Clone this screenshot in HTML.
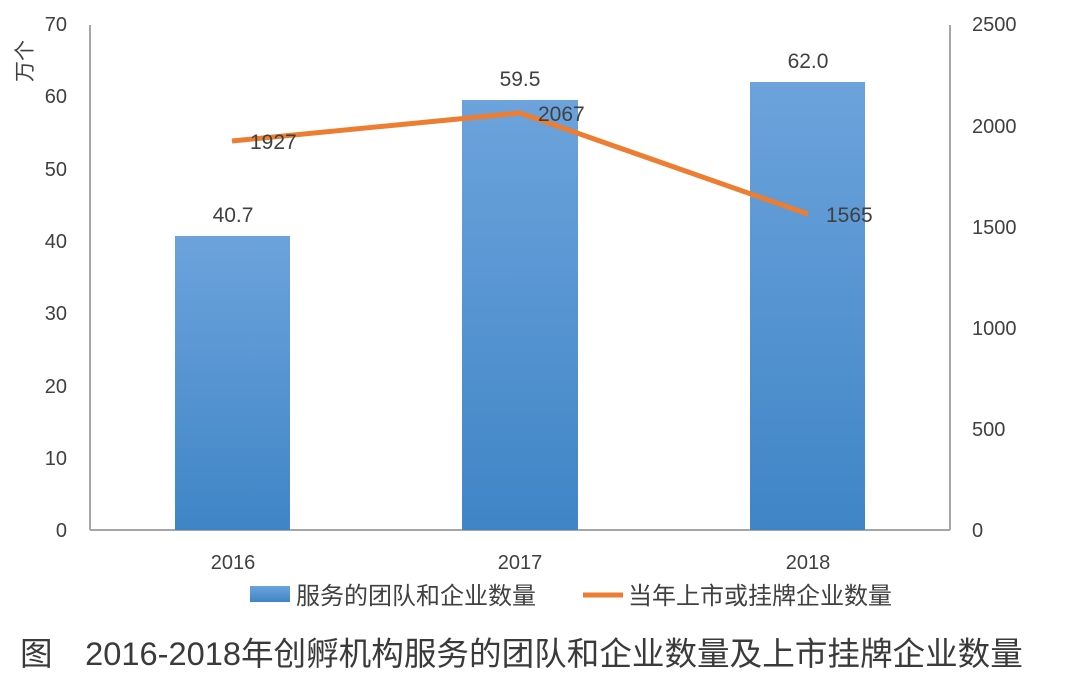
<!DOCTYPE html>
<html><head><meta charset="utf-8"><style>
body{margin:0;background:#fff;}
svg text{font-family:"Liberation Sans","Noto Sans CJK SC",sans-serif;fill:#404040;}
</style></head><body>
<svg width="1080" height="691" viewBox="0 0 1080 691" xmlns="http://www.w3.org/2000/svg">
<defs>
<linearGradient id="g" x1="0" y1="0" x2="0" y2="1">
<stop offset="0" stop-color="#6ca3dc"/><stop offset="1" stop-color="#3f85c6"/>
</linearGradient>
</defs>
<rect width="1080" height="691" fill="#fff"/>
<line x1="90" y1="25" x2="90" y2="530" stroke="#a6a6a6" stroke-width="2"/>
<line x1="950" y1="25" x2="950" y2="530" stroke="#a6a6a6" stroke-width="2"/>
<line x1="90" y1="530" x2="950" y2="530" stroke="#a6a6a6" stroke-width="2"/>
<g font-size="20" text-anchor="end">
<text x="67" y="537">0</text><text x="67" y="465">10</text><text x="67" y="393">20</text><text x="67" y="320">30</text><text x="67" y="248">40</text><text x="67" y="176">50</text><text x="67" y="103">60</text><text x="67" y="31">70</text>
</g>
<g font-size="20" text-anchor="start">
<text x="972" y="537">0</text><text x="972" y="436">500</text><text x="972" y="335">1000</text><text x="972" y="234">1500</text><text x="972" y="133">2000</text><text x="972" y="31">2500</text>
</g>
<text x="0" y="0" font-size="21" transform="translate(32,82) rotate(-90)">万个</text>
<rect x="175" y="236" width="115" height="294" fill="url(#g)"/>
<rect x="462" y="100" width="116" height="430" fill="url(#g)"/>
<rect x="750" y="82" width="115" height="448" fill="url(#g)"/>
<g font-size="21" text-anchor="middle">
<text x="233" y="222">40.7</text><text x="520" y="86">59.5</text><text x="808" y="68">62.0</text>
</g>
<polyline points="232,141 520,113 808,214" fill="none" stroke="#ed7d31" stroke-width="5" stroke-linejoin="round"/>
<g font-size="21">
<text x="250" y="149">1927</text><text x="538" y="121">2067</text><text x="826" y="222">1565</text>
</g>
<g font-size="20" text-anchor="middle">
<text x="233" y="569">2016</text><text x="520" y="569">2017</text><text x="808" y="569">2018</text>
</g>
<rect x="250" y="586" width="40" height="16" fill="url(#g)"/>
<text x="296" y="604" font-size="24">服务的团队和企业数量</text>
<line x1="583" y1="595" x2="623" y2="595" stroke="#ed7d31" stroke-width="5"/>
<text x="628" y="604" font-size="24">当年上市或挂牌企业数量</text>
<text x="20" y="665" font-size="32.6" style="fill:#3a3a3a">图　2016-2018年创孵机构服务的团队和企业数量及上市挂牌企业数量</text>
</svg>
</body></html>
